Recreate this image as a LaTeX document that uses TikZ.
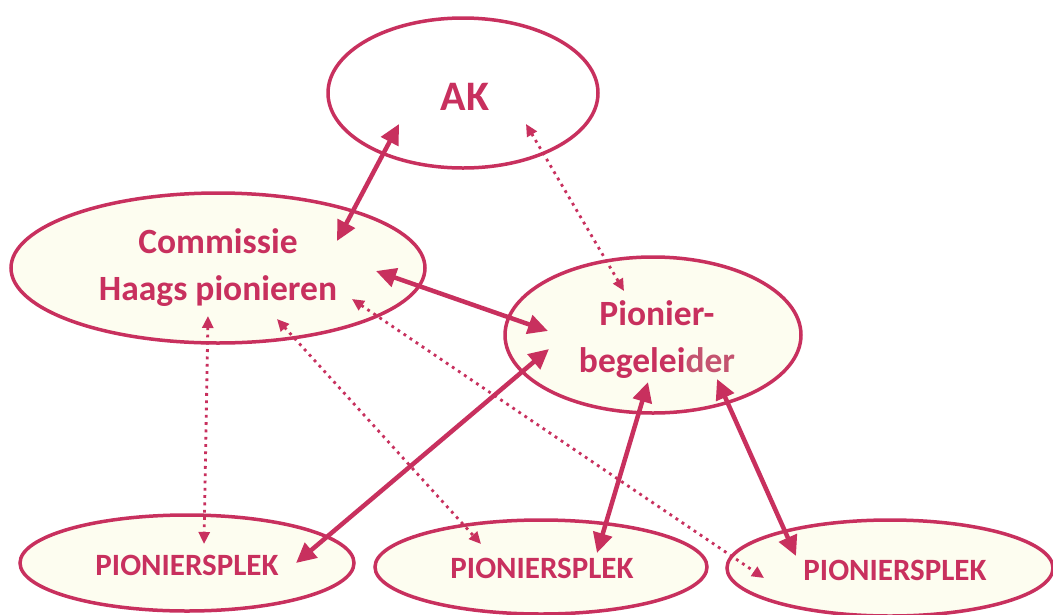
\documentclass[tikz,border=0pt]{standalone}
\usepackage{fontspec}
\setmainfont{Carlito}
\usetikzlibrary{shapes.geometric,arrows.meta}
\definecolor{pk}{RGB}{200,48,94}
\definecolor{pkl}{RGB}{196,84,112}
\definecolor{cream}{RGB}{253,253,240}
\tikzset{
  oval/.style={ellipse, draw=pk, line width=3.5pt, fill=cream, inner sep=0pt},
  bigtxt/.style={text=pk, font=\bfseries\fontsize{35.5}{47}\selectfont, align=center},
  aktxt/.style={text=pk, font=\bfseries\fontsize{42}{48}\selectfont},
  smalltxt/.style={text=pk, font=\bfseries\fontsize{31}{36}\selectfont},
  thick arrow/.style={draw=pk, line width=4.5pt, {Triangle[length=20pt,width=19pt]}-{Triangle[length=20pt,width=19pt]}},
  dot arrow/.style={draw=pk, line width=2.8pt, dash pattern=on 2.8pt off 4.5pt, {Triangle[length=12pt,width=11pt]}-{Triangle[length=12pt,width=11pt]}}
}
\begin{document}
\begin{tikzpicture}[x=1pt,y=-1pt]
\useasboundingbox (0,0) rectangle (1053,614);
\fill[white] (0,0) rectangle (1053,614);
% ellipses
\node[oval, fill=white, minimum width=270, minimum height=150] (ak) at (463,93) {};
\node[oval, minimum width=414, minimum height=150] (com) at (218,268) {};
\node[oval, minimum width=296, minimum height=156] (pb) at (653,335) {};
\node[oval, minimum width=334, minimum height=96] (pl1) at (187,563) {};
\node[oval, minimum width=332, minimum height=94] (pl2) at (541,567) {};
\node[oval, minimum width=326, minimum height=96] (pl3) at (890,568) {};
% texts
\node[aktxt] (akt) at (465,97) {AK};
\node[bigtxt] (comt) at (218,268) {Commissie\\Haags pionieren};
\node[bigtxt] (pbt) at (657,340) {Pionier-\\begelei\textcolor{pkl}{der}};
\node[smalltxt] (pl1t) at (187,565) {PIONIERSPLEK};
\node[smalltxt] (pl2t) at (542,568) {PIONIERSPLEK};
\node[smalltxt] (pl3t) at (895,570) {PIONIERSPLEK};
% arrow end points
\coordinate (a1) at (399,124); \coordinate (c1) at (337,241);
\coordinate (a2) at (526,124); \coordinate (p2) at (624,291);
\coordinate (c3) at (376,271); \coordinate (p3) at (548,331);
\coordinate (p4) at (549,349); \coordinate (l4) at (296,563);
\coordinate (p5) at (648,382); \coordinate (l5) at (597,553);
\coordinate (p6) at (717,379); \coordinate (l6) at (796,556);
\coordinate (c7) at (208,316); \coordinate (l7) at (204,544);
\coordinate (c8) at (277,319); \coordinate (l8) at (481,544);
\coordinate (c9) at (352,299); \coordinate (l9) at (764,578);
% connectors
\draw[thick arrow] (a1) -- (c1);
\draw[dot arrow] (a2) -- (p2);
\draw[thick arrow] (c3) -- (p3);
\draw[thick arrow] (p4) -- (l4);
\draw[thick arrow] (p5) -- (l5);
\draw[thick arrow] (p6) -- (l6);
\draw[dot arrow] (c7) -- (l7);
\draw[dot arrow] (c8) -- (l8);
\draw[dot arrow] (c9) -- (l9);
\end{tikzpicture}
\end{document}
